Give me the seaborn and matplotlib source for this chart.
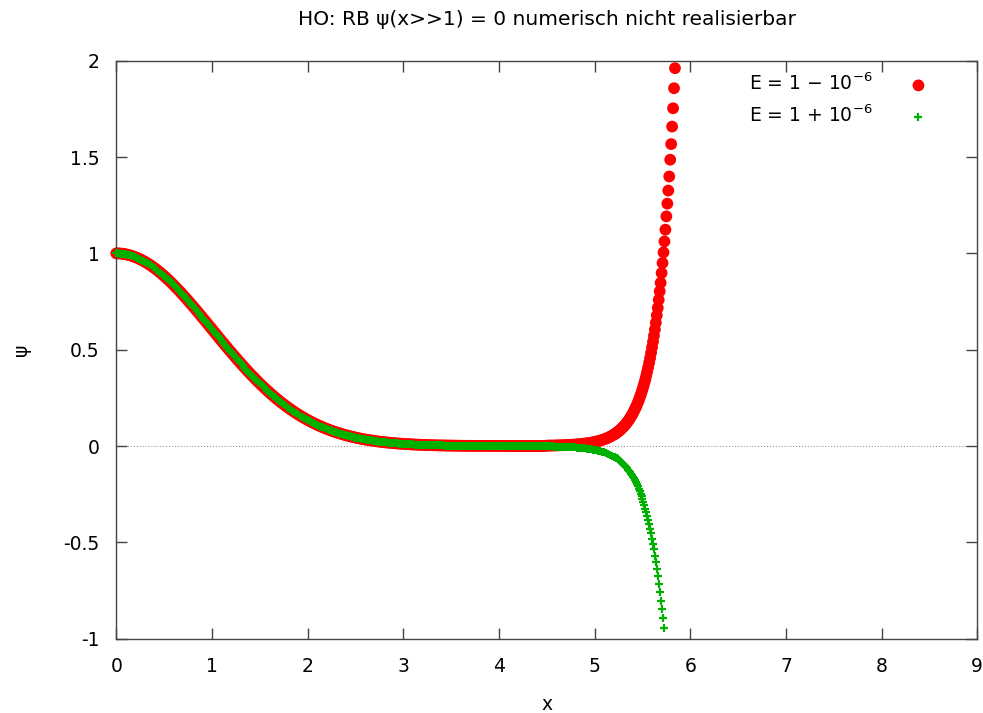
import numpy as np
import pandas as pd
import matplotlib
matplotlib.use("Agg")
import matplotlib.pyplot as plt
from matplotlib.ticker import FuncFormatter
import seaborn as sns

# ---- data ----
# shared part of both solutions, x = 0 .. 4.48 in steps of 0.02
x_core = np.round(np.arange(0, 4.4801, 0.02), 3)
psi_core = [
    1.0000, 0.9998, 0.9992, 0.9982, 0.9968, 0.9950, 0.9928, 0.9902, 0.9873, 0.9839,
    0.9802, 0.9761, 0.9716, 0.9668, 0.9616, 0.9560, 0.9501, 0.9438, 0.9373, 0.9303,
    0.9231, 0.9156, 0.9077, 0.8996, 0.8912, 0.8825, 0.8735, 0.8643, 0.8549, 0.8452,
    0.8353, 0.8251, 0.8148, 0.8043, 0.7936, 0.7827, 0.7717, 0.7605, 0.7492, 0.7377,
    0.7261, 0.7145, 0.7027, 0.6909, 0.6790, 0.6670, 0.6549, 0.6429, 0.6308, 0.6187,
    0.6065, 0.5944, 0.5823, 0.5702, 0.5581, 0.5461, 0.5341, 0.5222, 0.5103, 0.4985,
    0.4868, 0.4751, 0.4636, 0.4521, 0.4408, 0.4296, 0.4185, 0.4075, 0.3966, 0.3859,
    0.3753, 0.3649, 0.3546, 0.3445, 0.3345, 0.3247, 0.3150, 0.3055, 0.2962, 0.2870,
    0.2780, 0.2692, 0.2606, 0.2521, 0.2438, 0.2357, 0.2278, 0.2201, 0.2125, 0.2051,
    0.1979, 0.1909, 0.1840, 0.1773, 0.1708, 0.1645, 0.1583, 0.1523, 0.1465, 0.1408,
    0.1353, 0.1300, 0.1248, 0.1198, 0.1150, 0.1103, 0.1057, 0.1013, 0.0970, 0.0929,
    0.0889, 0.0851, 0.0814, 0.0778, 0.0743, 0.0710, 0.0678, 0.0647, 0.0617, 0.0589,
    0.0561, 0.0535, 0.0509, 0.0485, 0.0462, 0.0439, 0.0418, 0.0397, 0.0377, 0.0359,
    0.0340, 0.0323, 0.0307, 0.0291, 0.0276, 0.0261, 0.0247, 0.0234, 0.0222, 0.0210,
    0.0198, 0.0188, 0.0177, 0.0167, 0.0158, 0.0149, 0.0141, 0.0133, 0.0125, 0.0118,
    0.0111, 0.0105, 0.0098, 0.0093, 0.0087, 0.0082, 0.0077, 0.0072, 0.0068, 0.0064,
    0.0060, 0.0056, 0.0052, 0.0049, 0.0046, 0.0043, 0.0040, 0.0038, 0.0035, 0.0033,
    0.0031, 0.0029, 0.0027, 0.0025, 0.0024, 0.0022, 0.0020, 0.0019, 0.0018, 0.0016,
    0.0015, 0.0014, 0.0013, 0.0012, 0.0011, 0.0011, 0.0010, 0.0009, 0.0009, 0.0008,
    0.0007, 0.0007, 0.0006, 0.0006, 0.0005, 0.0005, 0.0005, 0.0004, 0.0004, 0.0004,
    0.0003, 0.0003, 0.0003, 0.0003, 0.0002, 0.0002, 0.0002, 0.0002, 0.0002, 0.0001,
    0.0001, 0.0001, 0.0001, 0.0001, 0.0001, 0.0001, 0.0001, 0.0001, 0.0001, 0.0001,
    0.0001, 0.0001, 0.0001, 0.0001, 0.0001,
]

# tails, x = 4.50 .. 5.18 in steps of 0.02
x_tail_a = np.round(np.arange(4.50, 5.1801, 0.02), 3)
red_tail_a = [
    0.0020, 0.0022, 0.0024, 0.0026, 0.0028, 0.0031, 0.0034, 0.0038, 0.0041, 0.0045,
    0.0050, 0.0055, 0.0060, 0.0066, 0.0073, 0.0080, 0.0088, 0.0097, 0.0107, 0.0118,
    0.0130, 0.0143, 0.0158, 0.0174, 0.0193, 0.0213, 0.0235, 0.0260, 0.0288, 0.0318,
    0.0352, 0.0390, 0.0433, 0.0480, 0.0532,
]
green_tail_a = [
    -0.0019, -0.0020, -0.0022, -0.0024, -0.0027, -0.0029, -0.0032, -0.0035, -0.0039, -0.0042,
    -0.0047, -0.0051, -0.0056, -0.0062, -0.0068, -0.0075, -0.0082, -0.0091, -0.0100, -0.0110,
    -0.0122, -0.0134, -0.0148, -0.0163, -0.0181, -0.0199, -0.0220, -0.0244, -0.0270, -0.0298,
    -0.0330, -0.0366, -0.0406, -0.0450, -0.0499,
]

# tails, steps of 0.01 from x = 5.20
x_red_tail_b = np.round(np.arange(5.20, 5.8401, 0.01), 3)
red_tail_b = [
    0.0590, 0.0622, 0.0655, 0.0690, 0.0727, 0.0766, 0.0808, 0.0851, 0.0897, 0.0946,
    0.0998, 0.1052, 0.1109, 0.1170, 0.1234, 0.1302, 0.1373, 0.1449, 0.1529, 0.1614,
    0.1703, 0.1798, 0.1897, 0.2003, 0.2115, 0.2233, 0.2359, 0.2491, 0.2632, 0.2780,
    0.294, 0.310, 0.328, 0.346, 0.366, 0.387, 0.409, 0.433, 0.457, 0.484,
    0.512, 0.541, 0.572, 0.605, 0.640, 0.678, 0.717, 0.759, 0.803, 0.847,
    0.898, 0.950, 1.005, 1.062, 1.123, 1.192, 1.258, 1.326, 1.399, 1.486,
    1.567, 1.658, 1.753, 1.857, 1.961,
]
x_green_tail_b = np.round(np.arange(5.20, 5.7201, 0.01), 3)
green_tail_b = [
    -0.0553, -0.0583, -0.0614, -0.0647, -0.0682, -0.0718, -0.0757, -0.0798, -0.0841, -0.0887,
    -0.0935, -0.0986, -0.1040, -0.1097, -0.1157, -0.1220, -0.1287, -0.1358, -0.1433, -0.1513,
    -0.1597, -0.1685, -0.1779, -0.1878, -0.1983, -0.2094, -0.2211, -0.2336, -0.2467, -0.2606,
    -0.275, -0.291, -0.307, -0.325, -0.343, -0.363, -0.384, -0.406, -0.429, -0.4535,
    -0.480, -0.507, -0.536, -0.570, -0.604, -0.639, -0.677, -0.717, -0.760, -0.803,
    -0.846, -0.894, -0.946,
]

label_minus = r"E = 1 $-$ 10$^{-6}$"
label_plus = r"E = 1 + 10$^{-6}$"

red = pd.DataFrame({
    "x": np.concatenate([x_core, x_tail_a, x_red_tail_b]),
    "psi": psi_core + red_tail_a + red_tail_b,
})
green = pd.DataFrame({
    "x": np.concatenate([x_core, x_tail_a, x_green_tail_b]),
    "psi": psi_core + green_tail_a + green_tail_b,
})

# ---- style ----
sns.set_style("ticks")
plt.rcParams["font.family"] = ["DejaVu Sans"]
plt.rcParams["axes.unicode_minus"] = False
plt.rcParams["mathtext.fontset"] = "dejavusans"
plt.rcParams["text.color"] = "black"
plt.rcParams["axes.labelcolor"] = "black"

fs = 13.5
fig = plt.figure(figsize=(9.83, 7.13), dpi=100)
ax = fig.add_axes([0.1183, 0.1042, 0.8759, 0.8107])

ax.axhline(0, color="#808080", linestyle=(0, (1, 2)), linewidth=0.7, zorder=0)

sns.scatterplot(data=red, x="x", y="psi", ax=ax, marker="o", s=72,
                color="#ff0000", edgecolor="none", linewidth=0,
                label=label_minus, clip_on=False, zorder=2)
sns.scatterplot(data=green, x="x", y="psi", ax=ax, marker="+", s=28,
                color="#00b000", linewidth=1.6,
                label=label_plus, clip_on=False, zorder=3)

ax.set_xlim(0, 9)
ax.set_ylim(-1, 2)
ax.set_xticks(range(0, 10))
ax.set_yticks([-1, -0.5, 0, 0.5, 1, 1.5, 2])
ax.yaxis.set_major_formatter(FuncFormatter(lambda v, p: "%g" % v))
ax.xaxis.set_major_formatter(FuncFormatter(lambda v, p: "%g" % v))

for side in ["left", "right", "top", "bottom"]:
    ax.spines[side].set_visible(True)
    ax.spines[side].set_color("#444444")
    ax.spines[side].set_linewidth(1.0)
ax.tick_params(direction="in", length=8, width=1, color="#444444",
               top=True, right=True, labelsize=fs, labelcolor="black")
ax.tick_params(axis="x", pad=13)
ax.tick_params(axis="y", pad=12)

ax.set_xlabel("x", fontsize=fs, labelpad=14)
ax.set_ylabel("ψ", fontsize=fs, labelpad=23)
ax.set_title("HO: RB ψ(x>>1) = 0 numerisch nicht realisierbar",
             fontsize=14.5, pad=26, color="black")

ax.legend(loc="upper right", bbox_to_anchor=(0.948, 0.979), frameon=False,
          markerfirst=False, fontsize=fs, handlelength=1.5, handletextpad=1.7,
          borderaxespad=0, borderpad=0, labelspacing=0.55)

fig.savefig("out.png", dpi=100)
